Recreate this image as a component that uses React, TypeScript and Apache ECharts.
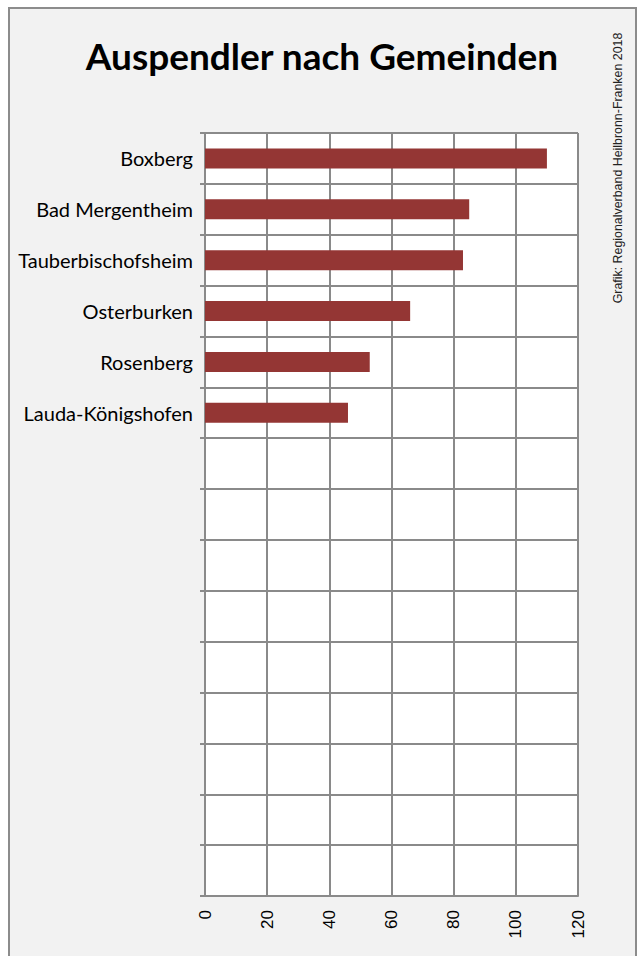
import React, { useEffect, useRef } from "react";
import * as echarts from "echarts";

const categories = [
  "Boxberg",
  "Bad Mergentheim",
  "Tauberbischofsheim",
  "Osterburken",
  "Rosenberg",
  "Lauda-Königshofen",
  "_7",
  "_8",
  "_9",
  "_10",
  "_11",
  "_12",
  "_13",
  "_14",
  "_15",
];
const values = [110, 85, 83, 66, 53, 46];
const xTicks = [0, 20, 40, 60, 80, 100, 120];
const titleText = "Auspendler nach Gemeinden";
const sourceText = "Grafik: Regionalverband Heilbronn-Franken 2018";

export default function App() {
  const ref = useRef<HTMLDivElement>(null);
  useEffect(() => {
    if (!ref.current) return;
    const chart = echarts.init(ref.current, undefined, { renderer: "svg" });
    const gridColor = "#8a8a8a";
    chart.setOption({
      animation: false,
      backgroundColor: "#ffffff",
      graphic: [
        {
          type: "rect",
          shape: { x: 9, y: 8, width: 627, height: 960 },
          style: { fill: "#f2f2f2", stroke: "#8c8c8c", lineWidth: 2 },
          z: -10,
          silent: true,
        },
        {
          type: "text",
          x: 322,
          y: 55,
          style: {
            text: titleText,
            font: "bold 37px Lato, 'Open Sans', sans-serif",
            fill: "#000",
            textAlign: "center",
            textVerticalAlign: "middle",
          },
        },
        {
          type: "text",
          x: 618,
          y: 168,
          rotation: Math.PI / 2,
          style: {
            text: sourceText,
            font: "12.4px 'Liberation Sans Narrow', 'Liberation Sans', sans-serif",
            fill: "#222",
            textAlign: "center",
            textVerticalAlign: "middle",
          },
        },
      ],
      grid: {
        left: 205,
        right: 59,
        top: 133,
        bottom: 60,
        show: true,
        backgroundColor: "#ffffff",
        borderWidth: 0,
      },
      xAxis: {
        type: "value",
        min: 0,
        max: 120,
        interval: 20,
        axisLine: { show: true, lineStyle: { color: gridColor, width: 2 } },
        axisTick: { show: false },
        splitLine: { show: true, lineStyle: { color: gridColor, width: 2 } },
        axisLabel: {
          rotate: 90,
          margin: 14,
          fontFamily: "'Liberation Sans', Arial, sans-serif",
          fontSize: 17,
          color: "#000",
          formatter: (v: number) => (xTicks.includes(v) ? String(v) : ""),
        },
      },
      yAxis: {
        type: "category",
        inverse: true,
        data: categories,
        axisLine: { show: true, lineStyle: { color: gridColor, width: 2 } },
        axisTick: { show: true, length: 5, lineStyle: { color: gridColor, width: 2 } },
        splitLine: { show: true, lineStyle: { color: gridColor, width: 2 } },
        axisLabel: {
          margin: 12,
          fontFamily: "Lato, 'Open Sans', sans-serif",
          fontSize: 20,
          color: "#000",
          formatter: (v: string) => (v.startsWith("_") ? "" : v),
        },
      },
      series: [
        {
          type: "bar",
          data: values,
          barWidth: 20,
          itemStyle: { color: "#943634" },
        },
      ],
    });
    return () => chart.dispose();
  }, []);
  return (
    <div
      ref={ref}
      style={{ position: "fixed", left: 0, top: 0, width: 637, height: 956 }}
    />
  );
}
